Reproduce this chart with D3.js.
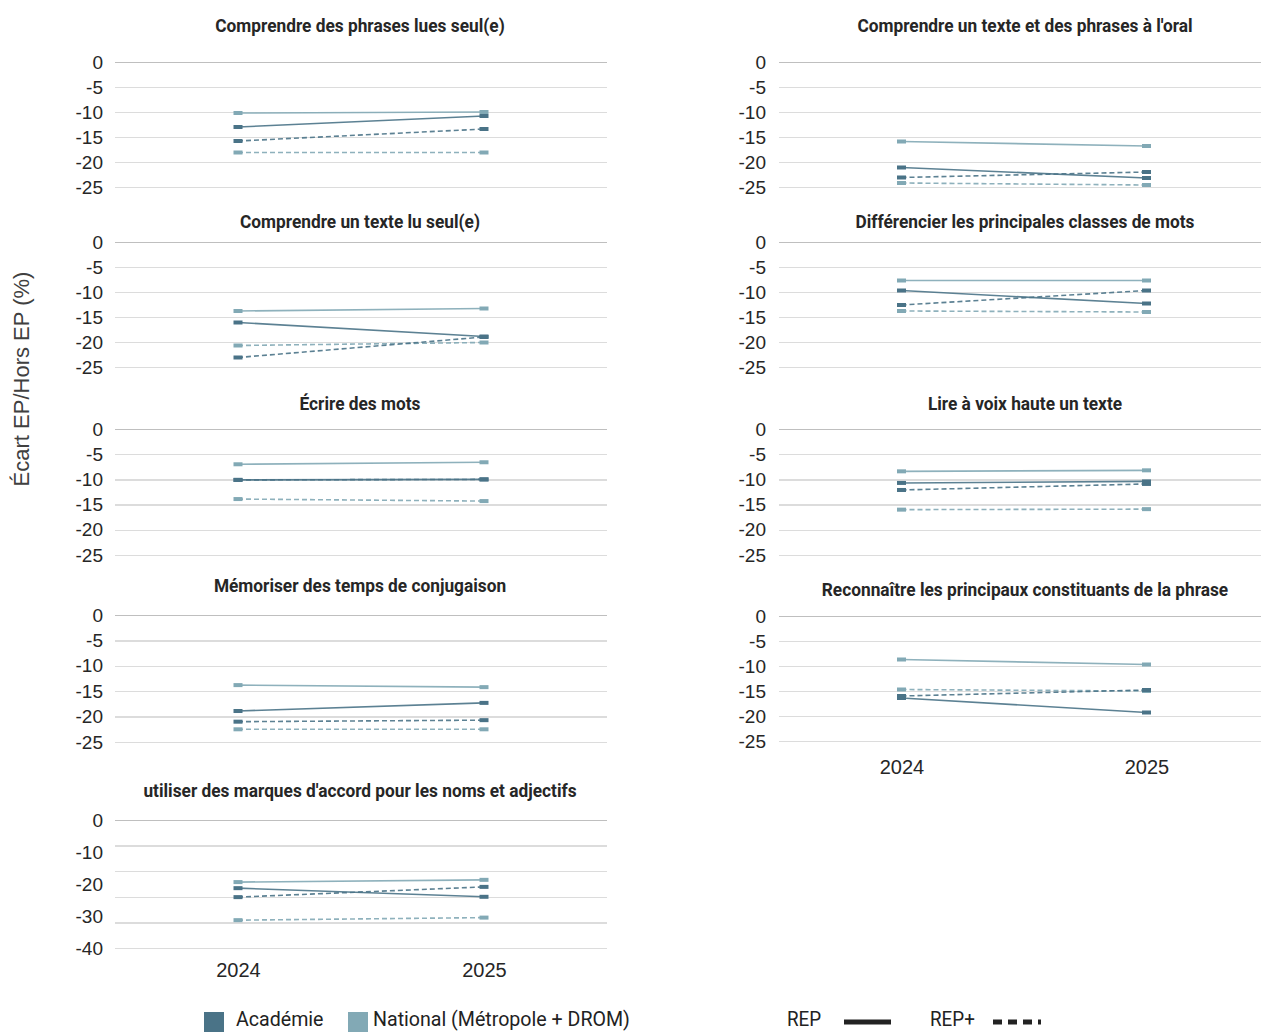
<!DOCTYPE html>
<html>
<head>
<meta charset="utf-8">
<script src="https://cdn.jsdelivr.net/npm/d3@7/dist/d3.min.js"></script>
<style>
  html, body { margin: 0; padding: 0; background: #fff; }
  svg { display: block; }
</style>
</head>
<body>
<svg id="chart" width="1261" height="1032"></svg>
<script>
// ---------------- DATA ----------------
const years = ["2024", "2025"];
const titles = [
  "Comprendre des phrases lues seul(e)",
  "Comprendre un texte lu seul(e)",
  "Écrire des mots",
  "Mémoriser des temps de conjugaison",
  "utiliser des marques d'accord pour les noms et adjectifs",
  "Comprendre un texte et des phrases à l'oral",
  "Différencier les principales classes de mots",
  "Lire à voix haute un texte",
  "Reconnaître les principaux constituants de la phrase"
];
const academieREP     = [[-13.0,-10.8],[-16.1,-18.9],[-10.1,-10.0],[-18.9,-17.3],[-21.3,-24.0],[-21.1,-23.2],[-9.7,-12.3],[-10.7,-10.4],[-16.4,-19.3]];
const academieREPplus = [[-15.8,-13.4],[-23.1,-19.0],[-10.1,-10.0],[-21.0,-20.7],[-24.1,-20.9],[-23.1,-22.0],[-12.6,-9.7],[-12.1,-10.9],[-16.0,-14.8]];
const nationalREP     = [[-10.2,-10.0],[-13.8,-13.3],[-7.0,-6.6],[-13.8,-14.2],[-19.4,-18.7],[-15.9,-16.8],[-7.7,-7.7],[-8.4,-8.2],[-8.7,-9.7]];
const nationalREPplus = [[-18.1,-18.1],[-20.7,-20.1],[-13.9,-14.3],[-22.5,-22.5],[-31.3,-30.5],[-24.2,-24.6],[-13.8,-14.0],[-16.0,-15.9],[-14.7,-15.0]];
const yTicks = [0, -5, -10, -15, -20, -25];
const yTicksWide = [0, -10, -20, -30, -40];
const yGridWide = [0, -8, -16, -24, -32, -40];
const legendGroups = ["Académie", "National (Métropole + DROM)"];
const legendTypes = ["REP", "REP+"];
const yAxisTitle = "Écart EP/Hors EP (%)";

// ---------------- LAYOUT ----------------
const colAcad = "#4a7387";
const colNat = "#82a9b5";
const cols = [
  { x0: 115, x1: 607, labelX: 103, titleX: 360 },
  { x0: 779, x1: 1269, labelX: 766, titleX: 1025 }
];
const layout = [
  { c: 0, top: 62,  bot: 187, ty: 32,  wide: false },
  { c: 0, top: 242, bot: 367, ty: 228, wide: false },
  { c: 0, top: 429, bot: 555, ty: 410, wide: false },
  { c: 0, top: 615, bot: 742, ty: 592, wide: false },
  { c: 0, top: 820, bot: 948, ty: 797, wide: true, xlab: 977 },
  { c: 1, top: 62,  bot: 187, ty: 32,  wide: false },
  { c: 1, top: 242, bot: 367, ty: 228, wide: false },
  { c: 1, top: 429, bot: 555, ty: 410, wide: false },
  { c: 1, top: 616, bot: 741, ty: 596, wide: false, xlab: 774 }
];

const svg = d3.select("#chart");

function condense(sel, f) {
  sel.each(function () {
    const w = this.getComputedTextLength();
    d3.select(this).attr("textLength", w * f).attr("lengthAdjust", "spacingAndGlyphs");
  });
}

const seriesDefs = [
  { data: nationalREPplus, color: colNat, dash: "5,3" },
  { data: nationalREP, color: colNat, dash: null },
  { data: academieREPplus, color: colAcad, dash: "5,3" },
  { data: academieREP, color: colAcad, dash: null }
];

layout.forEach((p, i) => {
  const col = cols[p.c];
  const g = svg.append("g");
  const x = d3.scalePoint().domain(years).range([col.x0, col.x1]).padding(0.5);
  const y = d3.scaleLinear().domain(p.wide ? [-40, 0] : [-25, 0]).range([p.bot, p.top]);
  const grid = p.wide ? yGridWide : yTicks;
  const labels = p.wide ? yTicksWide : yTicks;

  const gAxis = g.append("g")
    .attr("transform", `translate(${col.x0},0)`)
    .call(d3.axisLeft(y).tickValues(grid).tickSize(-(col.x1 - col.x0)).tickFormat(""));
  gAxis.select(".domain").remove();
  gAxis.selectAll(".tick line")
    .attr("stroke", d => d === 0 ? "#bfbfbf" : "#dcdcdc")
    .attr("stroke-width", 1.3)
    .attr("shape-rendering", "crispEdges");

  const gLab = g.append("g")
    .attr("transform", `translate(${col.labelX},0)`)
    .call(d3.axisLeft(y).tickValues(labels).tickSize(0).tickPadding(0).tickFormat(d => String(d)));
  gLab.select(".domain").remove();
  gLab.selectAll(".tick text")
    .attr("font-family", "Liberation Sans, Arial, sans-serif")
    .attr("font-size", 19)
    .attr("fill", "#262626");

  g.append("text")
    .attr("x", col.titleX).attr("y", p.ty)
    .attr("text-anchor", "middle")
    .attr("font-family", "Roboto, sans-serif")
    .attr("font-weight", "bold")
    .attr("font-size", 18)
    .attr("fill", "#262626")
    .text(titles[i])
    .call(condense, 0.96);

  const line = d3.line().x((d, j) => x(years[j])).y(d => y(d));
  seriesDefs.forEach(s => {
    const vals = s.data[i];
    g.append("path")
      .attr("d", line(vals))
      .attr("fill", "none")
      .attr("stroke", s.color)
      .attr("stroke-width", 1.6)
      .attr("stroke-dasharray", s.dash)
      .attr("opacity", 0.9);
    g.selectAll(null).data(vals).enter().append("rect")
      .attr("x", (d, j) => x(years[j]) - 4.5)
      .attr("y", d => y(d) - 2)
      .attr("width", 9).attr("height", 4)
      .attr("fill", s.color);
  });

  if (p.xlab) {
    const gx = g.append("g")
      .attr("transform", `translate(0,${p.xlab})`)
      .call(d3.axisBottom(x).tickSize(0).tickPadding(0));
    gx.select(".domain").remove();
    gx.selectAll(".tick text")
      .attr("dy", 0)
      .attr("font-family", "Liberation Sans, Arial, sans-serif")
      .attr("font-size", 20)
      .attr("fill", "#262626");
  }
});

svg.append("text")
  .attr("transform", "translate(29,379) rotate(-90)")
  .attr("text-anchor", "middle")
  .attr("font-family", "Liberation Sans, Arial, sans-serif")
  .attr("font-size", 22)
  .attr("fill", "#404040")
  .text(yAxisTitle);

// legend
const lg = svg.append("g");
const swX = [204, 348];
legendGroups.forEach((t, k) => {
  lg.append("rect").attr("x", swX[k]).attr("y", 1012).attr("width", 20).attr("height", 20)
    .attr("fill", k === 0 ? colAcad : colNat);
  lg.append("text").attr("x", swX[k] + (k === 0 ? 32 : 25)).attr("y", 1026)
    .attr("font-family", "Roboto, sans-serif").attr("font-size", 20).attr("fill", "#222")
    .text(t).call(condense, 0.98);
});
const typeX = [787, 930];
legendTypes.forEach((t, k) => {
  lg.append("text").attr("x", typeX[k]).attr("y", 1026)
    .attr("font-family", "Roboto, sans-serif").attr("font-size", 20).attr("fill", "#222")
    .text(t).call(condense, 0.94);
  lg.append("line")
    .attr("x1", k === 0 ? 844 : 993).attr("x2", k === 0 ? 891 : 1041)
    .attr("y1", 1022).attr("y2", 1022)
    .attr("stroke", "#222").attr("stroke-width", 5)
    .attr("stroke-dasharray", k === 0 ? null : "9,6");
});
</script>
</body>
</html>
